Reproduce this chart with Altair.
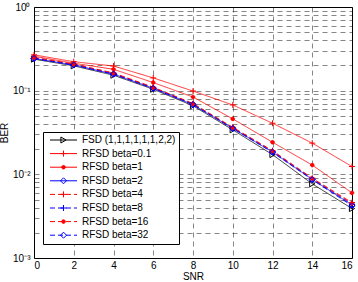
import altair as alt
import pandas as pd

snr = [0, 2, 4, 6, 8, 10, 12, 14, 16]
series_names = [
    "FSD (1,1,1,1,1,1,2,2)",
    "RFSD beta=0.1",
    "RFSD beta=1",
    "RFSD beta=2",
    "RFSD beta=4",
    "RFSD beta=8",
    "RFSD beta=16",
    "RFSD beta=32",
]
ber_fsd = [0.238, 0.198, 0.153, 0.104, 0.066, 0.0340, 0.0172, 0.0077, 0.0039]
ber_b01 = [0.268, 0.222, 0.197, 0.142, 0.099, 0.0675, 0.0408, 0.0236, 0.0124]
ber_b1 = [0.258, 0.213, 0.180, 0.125, 0.084, 0.0460, 0.0242, 0.0129, 0.0060]
ber_b2 = [0.243, 0.203, 0.158, 0.107, 0.068, 0.0355, 0.0185, 0.0087, 0.0043]
ber_b4 = [0.250, 0.208, 0.163, 0.110, 0.070, 0.0365, 0.0192, 0.0090, 0.0046]
ber_b8 = [0.245, 0.204, 0.159, 0.108, 0.069, 0.0358, 0.0188, 0.0088, 0.0044]
ber_b16 = [0.248, 0.207, 0.162, 0.109, 0.070, 0.0362, 0.0190, 0.0089, 0.0045]
ber_b32 = [0.242, 0.202, 0.157, 0.106, 0.068, 0.0352, 0.0183, 0.0086, 0.0042]
all_vals = [ber_fsd, ber_b01, ber_b1, ber_b2, ber_b4, ber_b8, ber_b16, ber_b32]

colors = ["black", "red", "red", "blue", "red", "blue", "red", "blue"]
dashes = [[1, 0], [1, 0], [1, 0], [1, 0], [5, 3], [5, 3], [5, 3], [5, 3]]
PLUS = "M-1,0H1M0,-1V1"
DOT = "M-0.6,0A0.6,0.6 0 1,0 0.6,0A0.6,0.6 0 1,0 -0.6,0Z"
shapes = ["triangle-right", PLUS, DOT, "diamond", PLUS, PLUS, DOT, "diamond"]
fills = ["transparent", "transparent", "red", "transparent",
         "transparent", "transparent", "red", "transparent"]
marker_keys = ["m0", "m1", "m2", "m3", "m4", "m5", "m6", "m7"]

y_ticks = [m * 10.0 ** e for e in (-3, -2, -1) for m in range(1, 10)] + [1.0]

rows = []
for name, key, vals in zip(series_names, marker_keys, all_vals):
    for s, v in zip(snr, vals):
        rows.append({"SNR": s, "BER": v, "series": name, "mk": key})
df = pd.DataFrame(rows)

FONT = "Liberation Sans"

x_enc = alt.X(
    "SNR:Q",
    scale=alt.Scale(domain=[0, 16], nice=False, zero=False),
    axis=alt.Axis(values=snr, title="SNR", format="d"),
)
y_lab = ("abs(datum.value-1)<1e-9 ? '10⁰' : abs(datum.value-0.1)<1e-9 ? '10⁻¹' : "
         "abs(datum.value-0.01)<1e-9 ? '10⁻²' : abs(datum.value-0.001)<1e-9 ? '10⁻³' : ''")
y_enc = alt.Y(
    "BER:Q",
    scale=alt.Scale(type="log", domain=[0.001, 1], nice=False),
    axis=alt.Axis(values=y_ticks, labelExpr=y_lab, title="BER"),
)

leg_a = alt.Legend(
    title=None, orient="none", legendX=9, legendY=125,
    symbolType="M-0.25,0H6.5", symbolSize=64, symbolStrokeWidth=1,
    labelOffset=26, labelFontSize=10, labelFont=FONT, labelColor="black",
    fillColor="white", strokeColor="black", padding=3, rowPadding=3.6,
    zindex=1,
)
leg_b = alt.Legend(
    title=None, orient="none", legendX=21.5, legendY=125,
    symbolSize=36, symbolStrokeWidth=1,
    labelOffset=26, labelFontSize=10, labelFont=FONT, labelExpr="''",
    padding=3, rowPadding=3.6, zindex=2,
)

lines = alt.Chart(df).mark_line(strokeWidth=0.8).encode(
    x=x_enc,
    y=y_enc,
    color=alt.Color("series:N", scale=alt.Scale(domain=series_names, range=colors), legend=leg_a),
    strokeDash=alt.StrokeDash("series:N", scale=alt.Scale(domain=series_names, range=dashes), legend=leg_a),
    detail="series:N",
)
points = alt.Chart(df).mark_point(size=36, strokeWidth=1, opacity=1).encode(
    x=x_enc,
    y=y_enc,
    shape=alt.Shape("mk:N", scale=alt.Scale(range=shapes), legend=leg_b),
    stroke=alt.Stroke("mk:N", scale=alt.Scale(range=colors), legend=leg_b),
    fill=alt.Fill("mk:N", scale=alt.Scale(range=fills), legend=leg_b),
)

chart = alt.layer(lines, points).properties(
    width=318, height=251,
    padding={"left": 34, "top": 7, "right": 6, "bottom": 24},
    autosize=alt.AutoSizeParams(type="none"),
    background="white",
).configure_view(
    stroke="black", strokeWidth=1,
).configure_axis(
    grid=True, gridColor="black", gridDash=[5, 4], gridWidth=0.6, gridOpacity=0.8,
    ticks=False, domain=False,
    labelFont=FONT, labelFontSize=10, labelColor="black",
    titleFont=FONT, titleFontSize=10, titleFontWeight="normal", titleColor="black",
).configure_axisX(
    labelPadding=2, titlePadding=1,
).configure_axisY(
    labelPadding=4, titleX=-25,
)

chart.save("out.html", embed_options={"renderer": "svg", "actions": False})
